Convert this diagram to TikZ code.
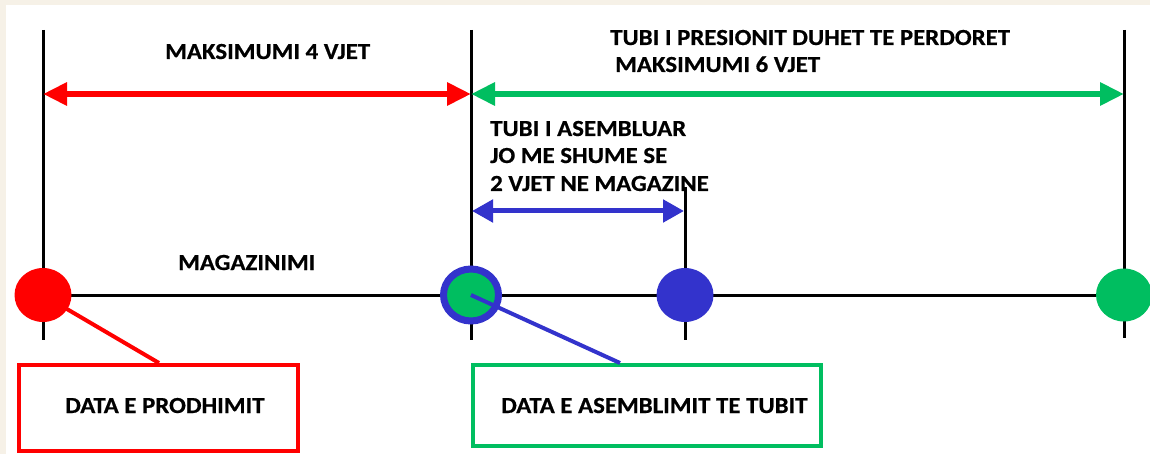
\documentclass[tikz,border=0pt]{standalone}
\usepackage{fontspec}
\setmainfont{Carlito}[FakeStretch=1.08,BoldFeatures={FakeBold=0.6}]
\usetikzlibrary{arrows.meta,shapes.geometric}
\definecolor{cream}{RGB}{246,241,231}
\definecolor{rd}{RGB}{255,0,0}
\definecolor{gr}{RGB}{0,190,96}
\definecolor{bl}{RGB}{51,51,204}
\tikzset{
  lbl/.style={anchor=base west,inner sep=0pt,font=\fontsize{23}{27}\selectfont\bfseries,text=black},
  tick/.style={draw=black,line width=3pt},
  span/.style={line width=6pt,{Triangle[length=24pt,width=22pt]}-{Triangle[length=24pt,width=22pt]}},
  dot/.style={ellipse,inner sep=0pt,minimum width=56pt,minimum height=54pt},
  boxx/.style={draw,line width=4pt,inner sep=0pt},
  lead/.style={line width=4pt}
}
\begin{document}
\begin{tikzpicture}[x=1pt,y=-1pt]
\useasboundingbox (0,0) rectangle (1150,454);
\fill[cream] (0,0) rectangle (1150,454);
\fill[white] (6,5) rectangle (1150,454);
% coordinates
\coordinate (t1) at (43,30);   \coordinate (b1) at (43,340);
\coordinate (t2) at (471,30);  \coordinate (b2) at (471,340);
\coordinate (t3) at (685,187); \coordinate (b3) at (685,340);
\coordinate (t4) at (1124,30); \coordinate (b4) at (1124,338);
\coordinate (h0) at (43,295);  \coordinate (h1) at (1150,295);
\coordinate (r1) at (43,94);  \coordinate (r2) at (471,94);
\coordinate (g2) at (1124,94);
\coordinate (u1) at (472,211); \coordinate (u2) at (684,211);
% ticks and axis
\draw[tick] (t1) -- (b1);
\draw[tick] (t2) -- (b2);
\draw[tick] (t3) -- (b3);
\draw[tick] (t4) -- (b4);
\draw[tick] (h0) -- (h1);
% spans
\draw[span,draw=rd,fill=rd] (r1) -- (r2);
\draw[span,draw=gr,fill=gr] (r2) -- (g2);
\draw[span,draw=bl,fill=bl,line width=5pt,{Triangle[length=21pt,width=22pt]}-{Triangle[length=21pt,width=22pt]}] (u1) -- (u2);
% boxes
\node[boxx,draw=rd,minimum width=279pt,minimum height=86pt] (box1) at (158.5,408) {};
\node[boxx,draw=gr,minimum width=348pt,minimum height=81pt] (box2) at (647,405.5) {};
% dots
\node[dot,fill=rd,minimum width=57pt] (c1) at (43,295) {};
\node[dot,fill=gr,draw=bl,line width=7pt,minimum width=55pt,minimum height=52pt] (c2) at (471,295) {};
\node[dot,fill=bl,minimum width=57pt] (c3) at (685,295) {};
\node[dot,fill=gr,minimum height=53pt] (c4) at (1124,295) {};
% leaders
\draw[lead,rd] (c1.center) -- ([xshift=142pt]box1.north west);
\draw[lead,bl] (c2.center) -- ([xshift=149pt]box2.north west);
% labels
\node[lbl] (l1) at (165,59) {MAKSIMUMI 4 VJET};
\node[lbl] (l2) at (610,45) {TUBI I PRESIONIT DUHET TE PERDORET};
\node[lbl] (l3) at (615,72) {MAKSIMUMI 6 VJET};
\node[lbl] (l4) at (490,136) {TUBI I ASEMBLUAR};
\node[lbl] (l5) at (490,163) {JO ME SHUME SE};
\node[lbl] (l6) at (490,191) {2 VJET NE MAGAZINE};
\node[lbl] (l7) at (178,270) {MAGAZINIMI};
\node[lbl] (l8) at (65,413) {DATA E PRODHIMIT};
\node[lbl] (l9) at (501,413) {DATA E ASEMBLIMIT TE TUBIT};
\end{tikzpicture}
\end{document}
